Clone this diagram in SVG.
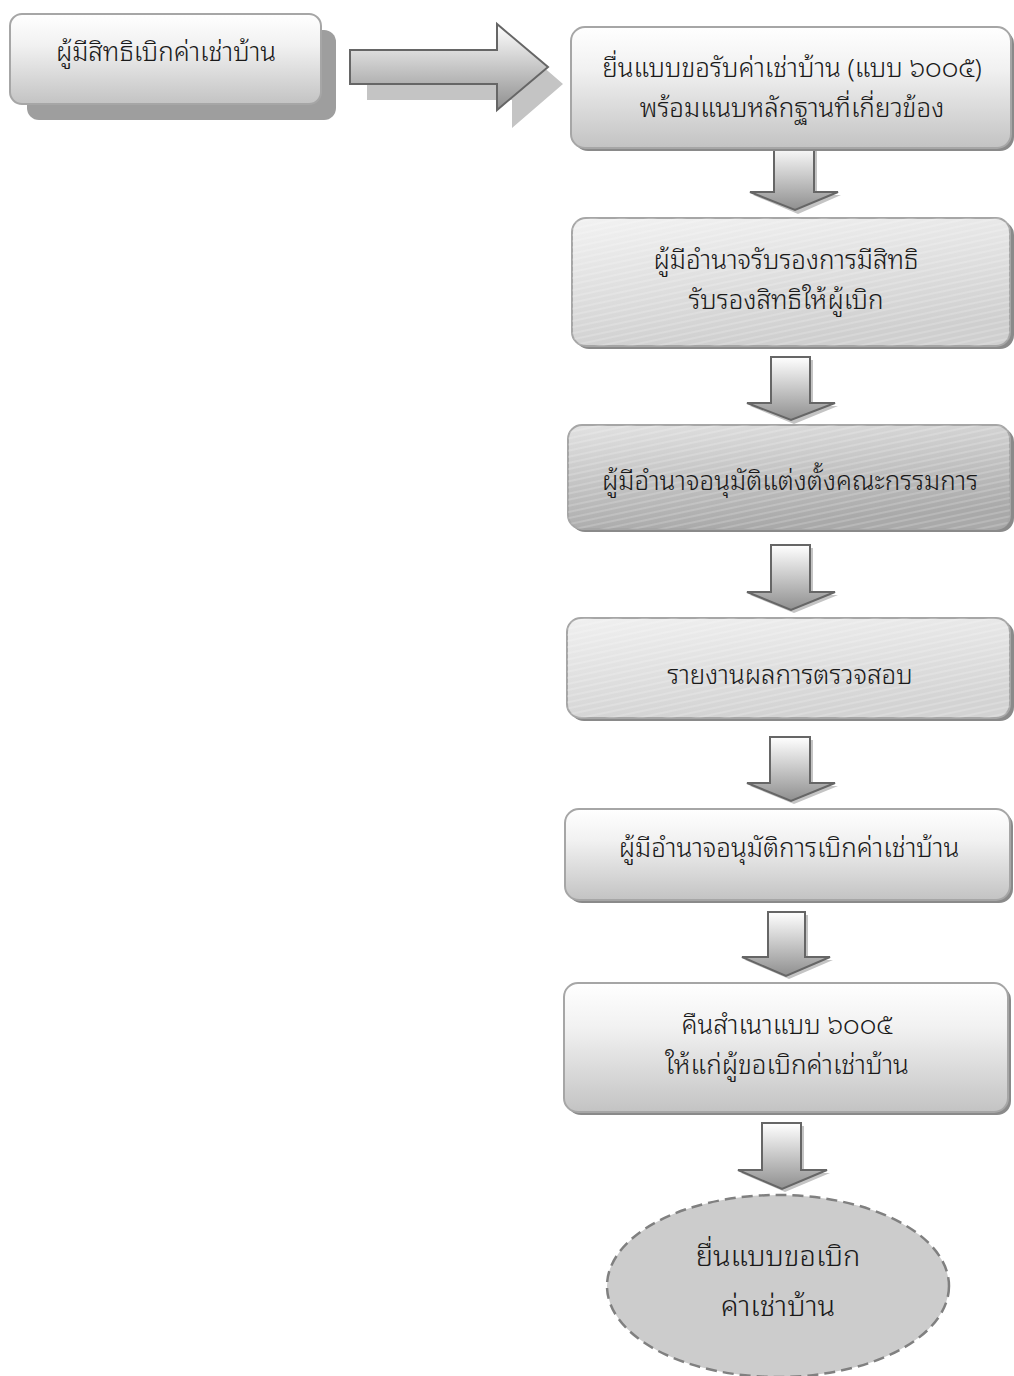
<svg xmlns="http://www.w3.org/2000/svg" width="1014" height="1376" viewBox="0 0 1014 1376">
<defs>
<linearGradient id="gBox" x1="0" y1="0" x2="0" y2="1"><stop offset="0" stop-color="#ffffff"/><stop offset="0.35" stop-color="#f1f1f1"/><stop offset="1" stop-color="#c3c3c3"/></linearGradient>
<linearGradient id="gB" x1="0" y1="0" x2="0.3" y2="1"><stop offset="0" stop-color="#f2f2f2"/><stop offset="1" stop-color="#cfcfcf"/></linearGradient>
<linearGradient id="gC" x1="0" y1="0" x2="0.3" y2="1"><stop offset="0" stop-color="#e2e2e2"/><stop offset="1" stop-color="#a9a9a9"/></linearGradient>
<linearGradient id="gD" x1="0" y1="0" x2="0.3" y2="1"><stop offset="0" stop-color="#f0f0f0"/><stop offset="1" stop-color="#d3d3d3"/></linearGradient>
<linearGradient id="gArr" x1="0" y1="0" x2="0" y2="1"><stop offset="0" stop-color="#ffffff"/><stop offset="1" stop-color="#8f8f8f"/></linearGradient>
<pattern id="hatch" width="6" height="6" patternUnits="userSpaceOnUse" patternTransform="rotate(-12)"><line x1="0" y1="1" x2="6" y2="1" stroke="#ffffff" stroke-opacity="0.35" stroke-width="1"/></pattern>
<style>
.t{font-family:"Noto Sans Thai Looped","Noto Serif Thai","Noto Sans Thai","Noto Sans",sans-serif;font-size:26px;font-weight:300;fill:#1a1a1a;text-anchor:middle}
.box{stroke:#a6a6a6;stroke-width:2}
.sh{fill:#8a8a8a}
.arr{fill:url(#gArr);stroke:#666666;stroke-width:2;stroke-linejoin:miter}
.ash{fill:#c4c4c4}
</style>
</defs>

<g id="n1">
<rect x="27" y="30" width="309" height="90" rx="12" fill="#9e9e9e"/>
<rect x="10" y="14" width="311" height="90" rx="12" fill="url(#gBox)" class="box"/>
<text class="t" x="166" y="61">ผู้มีสิทธิเบิกค่าเช่าบ้าน</text>
</g>

<g id="connectors">
<g id="c0">
<path class="ash" d="M367 66 H512 V40 L563 84 L512 128 V100 H367 Z"/>
<path class="arr" d="M350 50 H497 V24 L548 67 L497 110 V84 H350 Z"/>
</g>
<g id="c1">
<path class="ash" d="M777 148 H817 V195 H841 L798 214 L753 195 H777 Z"/>
<path class="arr" d="M774 145 H814 V192 H838 L795 210 L750 192 H774 Z"/>
</g>
<g id="c2">
<path class="ash" d="M774 360 H813 V406 H838 L794 424 L750 406 H774 Z"/>
<path class="arr" d="M771 357 H810 V403 H835 L791 420 L747 403 H771 Z"/>
</g>
<g id="c3">
<path class="ash" d="M774 548 H813 V595 H838 L794 613 L750 595 H774 Z"/>
<path class="arr" d="M771 545 H810 V592 H835 L791 610 L747 592 H771 Z"/>
</g>
<g id="c4">
<path class="ash" d="M773 740 H813 V786 H838 L794 804 L750 786 H773 Z"/>
<path class="arr" d="M770 737 H810 V783 H835 L791 801 L747 783 H770 Z"/>
</g>
<g id="c5">
<path class="ash" d="M771 915 H808 V960 H833 L789 979 L745 960 H771 Z"/>
<path class="arr" d="M768 912 H805 V957 H830 L786 976 L742 957 H768 Z"/>
</g>
<g id="c6">
<path class="ash" d="M765 1126 H804 V1173 H830 L785 1192 L741 1173 H765 Z"/>
<path class="arr" d="M762 1123 H801 V1170 H827 L782 1189 L738 1170 H762 Z"/>
</g>
</g>

<g id="nA">
<rect x="574" y="30" width="440" height="121" rx="14" class="sh"/>
<rect x="571" y="27" width="440" height="121" rx="14" fill="url(#gBox)" class="box"/>
<text class="t" x="792" y="77">ยื่นแบบขอรับค่าเช่าบ้าน (แบบ ๖๐๐๕)</text>
<text class="t" x="792" y="117">พร้อมแนบหลักฐานที่เกี่ยวข้อง</text>
</g>

<g id="nB">
<rect x="575" y="221" width="439" height="128" rx="14" class="sh"/>
<rect x="572" y="218" width="438" height="128" rx="14" fill="url(#gB)" class="box"/>
<rect x="572" y="218" width="438" height="128" rx="14" fill="url(#hatch)"/>
<text class="t" x="786" y="269">ผู้มีอำนาจรับรองการมีสิทธิ</text>
<text class="t" x="786" y="309">รับรองสิทธิให้ผู้เบิก</text>
</g>

<g id="nC">
<rect x="571" y="428" width="443" height="104" rx="14" class="sh"/>
<rect x="568" y="425" width="442" height="104" rx="14" fill="url(#gC)" class="box"/>
<rect x="568" y="425" width="442" height="104" rx="14" fill="url(#hatch)"/>
<text class="t" x="790" y="490">ผู้มีอำนาจอนุมัติแต่งตั้งคณะกรรมการ</text>
</g>

<g id="nD">
<rect x="570" y="621" width="444" height="100" rx="14" class="sh"/>
<rect x="567" y="618" width="443" height="100" rx="14" fill="url(#gD)" class="box"/>
<rect x="567" y="618" width="443" height="100" rx="14" fill="url(#hatch)"/>
<text class="t" x="790" y="684">รายงานผลการตรวจสอบ</text>
</g>

<g id="nE">
<rect x="568" y="812" width="445" height="91" rx="14" class="sh"/>
<rect x="565" y="809" width="445" height="91" rx="14" fill="url(#gBox)" class="box"/>
<text class="t" x="789" y="857">ผู้มีอำนาจอนุมัติการเบิกค่าเช่าบ้าน</text>
</g>

<g id="nF">
<rect x="567" y="986" width="444" height="129" rx="14" class="sh"/>
<rect x="564" y="983" width="444" height="129" rx="14" fill="url(#gBox)" class="box"/>
<text class="t" x="787" y="1034">คืนสำเนาแบบ ๖๐๐๕</text>
<text class="t" x="787" y="1074">ให้แก่ผู้ขอเบิกค่าเช่าบ้าน</text>
</g>

<g id="nG">
<ellipse cx="778" cy="1286" rx="171" ry="91" fill="#cccccc" stroke="#808080" stroke-width="2.5" stroke-dasharray="11 6"/>
<text class="t" x="778" y="1266" style="font-size:29px">ยื่นแบบขอเบิก</text>
<text class="t" x="778" y="1316" style="font-size:29px">ค่าเช่าบ้าน</text>
</g>
</svg>
